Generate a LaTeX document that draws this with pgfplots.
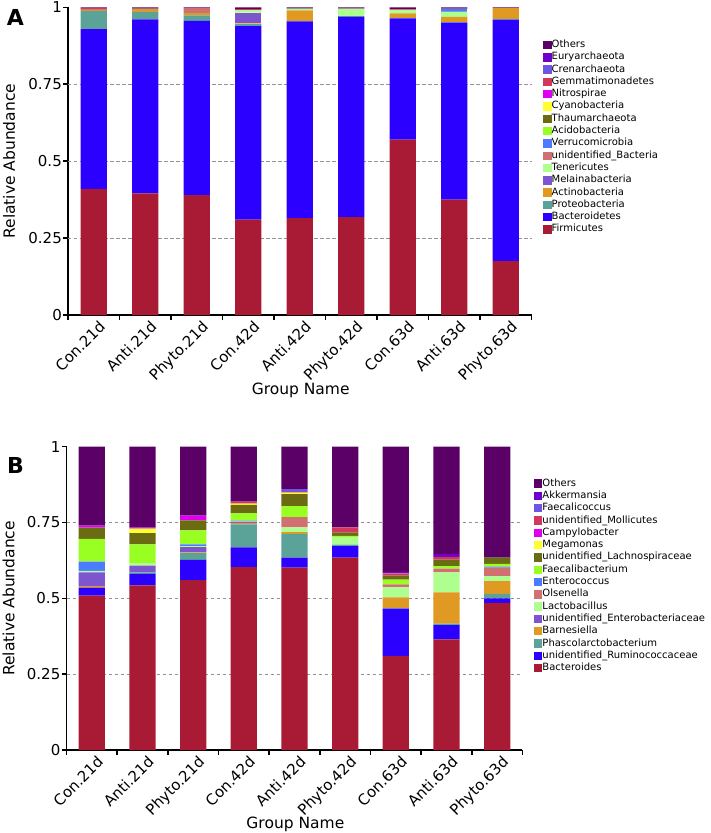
\documentclass[border=0pt]{standalone}
\usepackage{fontspec}
\setmainfont{DejaVu Sans}
\usepackage{pgfplots}
\usepackage{pgfplotstable}
\pgfplotsset{compat=1.18}

\definecolor{c01}{HTML}{A91B34}
\definecolor{c02}{HTML}{2B00FF}
\definecolor{c03}{HTML}{5BA399}
\definecolor{c04}{HTML}{E09A24}
\definecolor{c05}{HTML}{7D55CF}
\definecolor{c06}{HTML}{AFFF90}
\definecolor{c07}{HTML}{D07070}
\definecolor{c08}{HTML}{4D7BFF}
\definecolor{c09}{HTML}{99FF22}
\definecolor{c10}{HTML}{6B6B12}
\definecolor{c11}{HTML}{FFFF2E}
\definecolor{c12}{HTML}{E000F0}
\definecolor{c13}{HTML}{D2385E}
\definecolor{c14}{HTML}{6F55E6}
\definecolor{c15}{HTML}{7000CC}
\definecolor{c16}{HTML}{5B0066}

% Panel A: phyla
\pgfplotstableread{
x  s01   s02   s03   s04   s05   s06   s07   s08   s09   s10   s11   s12   s13   s14   s15   s16
0  0.410 0.519 0.059 0.004 0     0     0.003 0     0     0     0     0     0.002 0     0     0.003
1  0.395 0.566 0.024 0.009 0     0     0.002 0     0     0     0     0     0     0     0     0.004
2  0.390 0.566 0.018 0.007 0     0     0.016 0     0     0     0     0     0     0     0     0.003
3  0.310 0.629 0.006 0.003 0.035 0.008 0     0     0     0     0     0     0.003 0     0     0.006
4  0.315 0.639 0.002 0.034 0     0.006 0     0     0     0     0     0     0     0     0     0.004
5  0.318 0.651 0.002 0     0     0.025 0     0     0     0     0     0     0     0     0     0.004
6  0.570 0.394 0.002 0.014 0     0.011 0.003 0     0     0     0     0     0     0     0     0.006
7  0.375 0.575 0.002 0.017 0     0.017 0     0.008 0     0     0     0     0     0.002 0     0.004
8  0.175 0.785 0.002 0.035 0     0     0     0     0     0     0     0     0     0     0     0.003
}\tabA

% Panel B: genera
\pgfplotstableread{
x  s01   s02   s03   s04   s05   s06   s07   s08   s09   s10   s11   s12   s13   s14   s15   s16
0  0.509 0.026 0     0.005 0.046 0.005 0     0.030 0.075 0.037 0     0.007 0     0     0     0.260
1  0.543 0.038 0.005 0     0.022 0.008 0     0     0.062 0.037 0.015 0.003 0     0     0     0.267
2  0.560 0.067 0.022 0.003 0.017 0.003 0     0.006 0.046 0.033 0     0.016 0     0     0     0.227
3  0.603 0.065 0.076 0.005 0.004 0.003 0     0.002 0.022 0.028 0.004 0     0.007 0     0     0.181
4  0.601 0.033 0.079 0.005 0     0.016 0.034 0     0.036 0.040 0.005 0     0.002 0.009 0     0.140
5  0.634 0.038 0.005 0     0     0.025 0     0     0.004 0.011 0     0     0.017 0     0     0.266
6  0.310 0.156 0.003 0.034 0     0.034 0.009 0     0.016 0.013 0     0     0.007 0.002 0.003 0.413
7  0.365 0.047 0.005 0.103 0     0.066 0.012 0     0.008 0.022 0     0     0.009 0     0.009 0.354
8  0.485 0.015 0.015 0.042 0     0.016 0.028 0.004 0.009 0.020 0     0     0     0     0     0.366
}\tabB

\pgfplotsset{
  panel/.style={
    scale only axis,
    ybar stacked,
    bar width=26.3pt,
    ymin=0, ymax=1,
    xmin=-0.5, xmax=8.5,
    axis x line*=bottom,
    axis y line*=left,
    axis line style={black, line width=1.9pt},
    tick align=outside,
    major tick length=4.5pt,
    tick style={black, line width=1.5pt},
    xtick={-0.5,0.5,1.5,2.5,3.5,4.5,5.5,6.5,7.5,8.5},
    xticklabels={},
    extra x ticks={0,1,2,3,4,5,6,7,8},
    extra x tick labels={Con.21d,Anti.21d,Phyto.21d,Con.42d,Anti.42d,Phyto.42d,Con.63d,Anti.63d,Phyto.63d},
    extra x tick style={tick style={draw=none}, tick label style={rotate=45, anchor=north east, inner sep=1pt, yshift=-2pt, xshift=4pt}},
    ytick={0,0.25,0.5,0.75,1},
    yticklabels={0,0.25,0.5,0.75,1},
    extra y ticks={0.25,0.5,0.75},
    extra y tick labels={},
    extra y tick style={grid=major, tick style={draw=none}},
    major grid style={gray!85, dashed, line width=0.9pt, dash pattern=on 3.5pt off 2.5pt},
    /pgf/number format/assume math mode=true,
    tick label style={font=\fontsize{15}{15}\selectfont, black},
    yticklabel style={inner sep=1.5pt},
    label style={font=\fontsize{15.5}{15.5}\selectfont},
    xlabel={Group Name},
    ylabel={Relative Abundance},
    xlabel style={at={(axis description cs:0.502,-0.245)}, anchor=center},
    ylabel style={at={(axis description cs:-0.127,0.5)}, anchor=center, rotate=0},
    legend cell align=left,
    reverse legend,
    legend style={draw=none, fill=none, inner sep=0pt, row sep=0pt,
      font=\fontsize{10}{10}\selectfont,
      nodes={inner sep=0pt, text height=8.6pt, text depth=3.7pt, xshift=3pt}},
    legend image code/.code={\fill[#1] (0pt,-4.2pt) rectangle (8.4pt,4.2pt);},
    every axis plot/.append style={draw=none},
  }
}

\begin{document}
\begin{tikzpicture}
\useasboundingbox (0pt,0pt) rectangle (711pt,-833pt);

\begin{axis}[panel, at={(68pt,-315pt)}, anchor=south west, width=463.5pt, height=307.7pt,
  legend style={at={(axis description cs:1.025,0.898)}, anchor=north west}]
\addplot[fill=c01] table[x=x,y=s01]{\tabA}; \addlegendentry{Firmicutes}
\addplot[fill=c02] table[x=x,y=s02]{\tabA}; \addlegendentry{Bacteroidetes}
\addplot[fill=c03] table[x=x,y=s03]{\tabA}; \addlegendentry{Proteobacteria}
\addplot[fill=c04] table[x=x,y=s04]{\tabA}; \addlegendentry{Actinobacteria}
\addplot[fill=c05] table[x=x,y=s05]{\tabA}; \addlegendentry{Melainabacteria}
\addplot[fill=c06] table[x=x,y=s06]{\tabA}; \addlegendentry{Tenericutes}
\addplot[fill=c07] table[x=x,y=s07]{\tabA}; \addlegendentry{unidentified\_Bacteria}
\addplot[fill=c08] table[x=x,y=s08]{\tabA}; \addlegendentry{Verrucomicrobia}
\addplot[fill=c09] table[x=x,y=s09]{\tabA}; \addlegendentry{Acidobacteria}
\addplot[fill=c10] table[x=x,y=s10]{\tabA}; \addlegendentry{Thaumarchaeota}
\addplot[fill=c11] table[x=x,y=s11]{\tabA}; \addlegendentry{Cyanobacteria}
\addplot[fill=c12] table[x=x,y=s12]{\tabA}; \addlegendentry{Nitrospirae}
\addplot[fill=c13] table[x=x,y=s13]{\tabA}; \addlegendentry{Gemmatimonadetes}
\addplot[fill=c14] table[x=x,y=s14]{\tabA}; \addlegendentry{Crenarchaeota}
\addplot[fill=c15] table[x=x,y=s15]{\tabA}; \addlegendentry{Euryarchaeota}
\addplot[fill=c16] table[x=x,y=s16]{\tabA}; \addlegendentry{Others}
\end{axis}

\begin{axis}[panel, at={(66.5pt,-750pt)}, anchor=south west, width=456pt, height=303.3pt,
  legend style={at={(axis description cs:1.025,0.899)}, anchor=north west}]
\addplot[fill=c01] table[x=x,y=s01]{\tabB}; \addlegendentry{Bacteroides}
\addplot[fill=c02] table[x=x,y=s02]{\tabB}; \addlegendentry{unidentified\_Ruminococcaceae}
\addplot[fill=c03] table[x=x,y=s03]{\tabB}; \addlegendentry{Phascolarctobacterium}
\addplot[fill=c04] table[x=x,y=s04]{\tabB}; \addlegendentry{Barnesiella}
\addplot[fill=c05] table[x=x,y=s05]{\tabB}; \addlegendentry{unidentified\_Enterobacteriaceae}
\addplot[fill=c06] table[x=x,y=s06]{\tabB}; \addlegendentry{Lactobacillus}
\addplot[fill=c07] table[x=x,y=s07]{\tabB}; \addlegendentry{Olsenella}
\addplot[fill=c08] table[x=x,y=s08]{\tabB}; \addlegendentry{Enterococcus}
\addplot[fill=c09] table[x=x,y=s09]{\tabB}; \addlegendentry{Faecalibacterium}
\addplot[fill=c10] table[x=x,y=s10]{\tabB}; \addlegendentry{unidentified\_Lachnospiraceae}
\addplot[fill=c11] table[x=x,y=s11]{\tabB}; \addlegendentry{Megamonas}
\addplot[fill=c12] table[x=x,y=s12]{\tabB}; \addlegendentry{Campylobacter}
\addplot[fill=c13] table[x=x,y=s13]{\tabB}; \addlegendentry{unidentified\_Mollicutes}
\addplot[fill=c14] table[x=x,y=s14]{\tabB}; \addlegendentry{Faecalicoccus}
\addplot[fill=c15] table[x=x,y=s15]{\tabB}; \addlegendentry{Akkermansia}
\addplot[fill=c16] table[x=x,y=s16]{\tabB}; \addlegendentry{Others}
\end{axis}

\node[font=\bfseries\fontsize{22}{22}\selectfont, anchor=center] at (15.5pt,-17pt) {A};
\node[font=\bfseries\fontsize{22}{22}\selectfont, anchor=center] at (15.5pt,-465pt) {B};
\end{tikzpicture}
\end{document}
